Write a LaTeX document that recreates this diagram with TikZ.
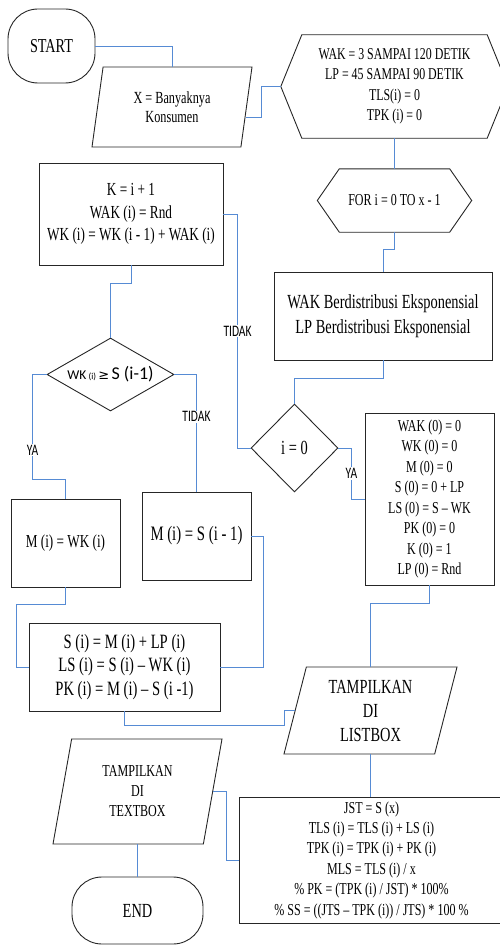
\documentclass[tikz,border=0pt]{standalone}
\usepackage{fontspec}
\setmainfont{Liberation Serif}[FakeStretch=0.72]
\newfontfamily\labelfont{Carlito}[FakeStretch=0.72]
\newfontfamily\condfont{Carlito}
\newfontfamily\symfont{DejaVu Sans}
\usetikzlibrary{positioning, calc, shapes.geometric}
\definecolor{linkblue}{RGB}{86,139,212}

\begin{document}
\begin{tikzpicture}[
    x=1pt, y=-1pt,
    shape line/.style = {draw=black!85, line width=0.9pt},
    box/.style    = {shape line, rectangle, align=center, inner sep=2pt,
                     font={\fontsize{16.7}{20.5}\selectfont}},
    term/.style   = {box, rounded corners=30pt},
    io/.style     = {box, trapezium, trapezium left angle=70, trapezium right angle=110,
                     trapezium stretches body, inner sep=0pt},
    prep/.style   = {align=center, inner sep=0pt, font={\fontsize{16.5}{20.5}\selectfont}},
    choice/.style = {box, diamond, inner sep=0pt},
    link/.style   = {draw=linkblue, line width=0.9pt},
    lbl/.style    = {fill=white, inner sep=1pt, font={\labelfont\fontsize{16}{18}\selectfont}},
  ]
  \useasboundingbox (0,0) rectangle (500,947);

  \node[term, minimum width=87pt, minimum height=74pt, font={\fontsize{19.7}{24}\selectfont}] (start)
      at (51.5,46) {START};
  \node[io, minimum width=160pt, minimum height=80pt, font={\fontsize{17}{18.5}\selectfont}] (cust)
      at (172,107) {X = Banyaknya\\Konsumen};
  \node[prep, minimum width=185pt, minimum height=103pt] (init)
      at (394.5,86.5) {WAK = 3 SAMPAI 120 DETIK\\LP = 45 SAMPAI 90 DETIK\\TLS(i) = 0\\TPK (i) = 0};
  \node[prep, minimum width=110pt, minimum height=63pt, font={\fontsize{16.7}{20}\selectfont}] (loop)
      at (394.5,200.5) {FOR i = 0 TO x - 1};
  \node[box, minimum width=218pt, minimum height=88pt, font={\fontsize{20}{25}\selectfont}] (dist)
      at (383,316) {WAK Berdistribusi Eksponensial\\LP Berdistribusi Eksponensial};
  \node[choice, minimum width=87pt, minimum height=88pt, font={\fontsize{20}{24}\selectfont}] (izero)
      at (294.5,448) {i = 0};
  \node[box, minimum width=129pt, minimum height=172pt] (zero)
      at (429.5,499) {WAK (0) = 0\\WK (0) = 0\\M (0) = 0\\S (0) = 0 + LP\\LS (0) = S – WK\\PK (0) = 0\\K (0) = 1\\LP (0) = Rnd};
  \node[box, minimum width=184pt, minimum height=102pt, font={\fontsize{18.4}{22.5}\selectfont}] (next)
      at (131,214) {K = i + 1\\WAK (i) = Rnd\\WK (i) = WK (i - 1) + WAK (i)};
  \node[choice, minimum width=127pt, minimum height=73pt, aspect=1.7, font=\condfont] (late)
      at (110.5,374.5) {{\fontsize{13.5}{15}\selectfont WK} {\fontsize{9}{10}\selectfont (i)}
      {\symfont\fontsize{13}{15}\selectfont ≥} {\fontsize{18}{20}\selectfont S (i-1)}};
  \node[box, minimum width=109pt, minimum height=88pt, font={\fontsize{18.3}{22}\selectfont}] (mwk)
      at (65.5,543) {M (i) = WK (i)};
  \node[box, minimum width=109pt, minimum height=88pt, font={\fontsize{20.5}{24}\selectfont}] (msi)
      at (196.5,536) {M (i) = S (i - 1)};
  \node[box, minimum width=191pt, minimum height=88pt, font={\fontsize{20.3}{23.5}\selectfont}] (sbox)
      at (124.5,667) {S (i) = M (i) + LP (i)\\LS (i) = S (i) – WK (i)\\PK (i) = M (i) – S (i -1)};
  \node[io, minimum width=173pt, minimum height=87pt, font={\fontsize{20}{24}\selectfont}] (list)
      at (370.5,710.5) {TAMPILKAN\\DI\\LISTBOX};
  \node[box, minimum width=264pt, minimum height=126pt, font={\fontsize{16.7}{20.4}\selectfont}] (recap)
      at (371.5,860) {JST = S (x)\\TLS (i) = TLS (i) + LS (i)\\TPK (i) = TPK (i) + PK (i)\\MLS = TLS (i) / x\\\% PK = (TPK (i) / JST) * 100\%\\\% SS = ((JTS – TPK (i)) / JTS) * 100 \%};
  \node[io, minimum width=169pt, minimum height=105pt, font={\fontsize{16.75}{20}\selectfont}] (show)
      at (137.5,791.5) {TAMPILKAN\\DI\\TEXTBOX};
  \node[term, minimum width=131pt, minimum height=67pt, font={\fontsize{20}{24}\selectfont}] (end)
      at (137.5,910.5) {END};

  % hexagon outlines round the preparation nodes
  \foreach \n/\d in {init/21pt, loop/22pt}
    \draw[shape line] (\n.north west) -- (\n.north east) -- ([xshift=\d]\n.east)
      -- (\n.south east) -- (\n.south west) -- ([xshift=-\d]\n.west) -- cycle;

  % connectors
  \foreach \a/\b in {init/loop, list/recap, show/end}
    \draw[link] (\a.south) -- (\a.south |- \b.north);
  \draw[link] (start.east) -| (cust.north);
  \draw[link] ($(cust.top right corner)!0.625!(cust.bottom right corner)$) -- ++(16,0)
    |- ([xshift=-21pt]init.west);
  \draw[link] (loop.south) -- ++(0,17) -| (dist.north);
  \draw[link] (dist.south) -- ++(0,18) -| (izero.north);
  \draw[link] (izero.west) -- ++(-13,0) |- node[lbl, pos=0.25] (no1) {TIDAK} (next.east);
  \draw[link] (izero.east) -- ++(13,0) |- node[lbl, pos=0.25] (yes1) {YA} (zero.west);
  \draw[link] (zero.south) -- ++(0,18) -| (list.north);
  \draw[link] (next.south) -- ++(0,18) -| (late.north);
  \draw[link] (late.west) -- ++(-14,0) -- node[lbl, pos=0.72] (yes2) {YA} ++(0,105) -| (mwk.north);
  \draw[link] (late.east) -| node[lbl, pos=0.68] (no2) {TIDAK} (msi.north);
  \draw[link] (msi.east) -- ++(12,0) |- (sbox.east);
  \draw[link] (mwk.south) -- ++(0,17) -- ++(-49,0) |- (sbox.west);
  \draw[link] (sbox.south) -- ++(0,14) -| ([xshift=-10pt]list.west) -- (list.west);
  \draw[link] (recap.west) -- ++(-13,0) |- (show.east);
\end{tikzpicture}
\end{document}
